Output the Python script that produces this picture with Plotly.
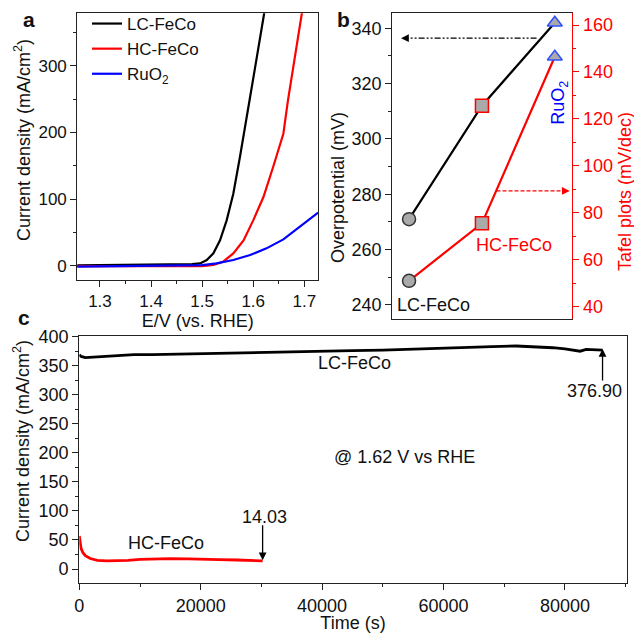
import plotly.graph_objects as go

# ---------------- data ----------------
# panel a: polarization curves
lc_E = [1.255, 1.30, 1.35, 1.40, 1.45, 1.48, 1.496, 1.509, 1.522, 1.535, 1.548, 1.561, 1.574, 1.590, 1.606, 1.620, 1.624]
lc_J = [0.5, 0.8, 1.0, 1.5, 2.0, 2.5, 3.5, 8.5, 18.5, 38, 68, 108, 163, 233, 308, 372, 390]
hc_E = [1.255, 1.30, 1.35, 1.40, 1.45, 1.50, 1.522, 1.541, 1.561, 1.581, 1.600, 1.620, 1.639, 1.659, 1.668, 1.678, 1.688, 1.692, 1.695, 1.698]
hc_J = [-0.5, -0.5, -1.0, -1.0, -1.0, -0.5, 1.0, 6, 18.5, 38, 68, 103, 148, 198, 248, 298, 348, 368, 378, 392]
ru_E = [1.255, 1.30, 1.35, 1.40, 1.45, 1.50, 1.528, 1.561, 1.594, 1.626, 1.659, 1.692, 1.727]
ru_J = [-1.5, -1.0, -0.5, 0.0, 0.5, 1.0, 3.5, 8.5, 16, 26, 39.5, 58.5, 79.5]

# panel b: overpotential and Tafel slopes
b_cats = ["LC-FeCo", "HC-FeCo", "RuO2"]
b_overpot = [271, 312, 342]
b_tafel = [51, 75.5, 146.5]

# panel c: chronoamperometry
lc_t = [0, 300, 1000, 3000, 6000, 9000, 12000, 16000, 20000, 25000, 30000, 35000, 40000, 45000, 50000,
        55000, 60000, 64000, 68000, 72000, 75000, 78000, 80000, 81500, 82500, 83500, 85000, 86200]
lc_j = [369, 366, 364, 365, 367, 369, 369, 370, 371, 372, 373, 374, 375, 376, 377,
        379, 380, 382, 383, 384, 383, 381, 379, 377, 375, 378, 377, 376.9]
hc_t = [0, 100, 300, 600, 1000, 1800, 3000, 4500, 6000, 8000, 10000, 12000, 15000, 18000, 20000,
        23000, 26000, 28000, 30200]
hc_j = [57, 45, 35, 28, 23, 18, 15, 14, 14, 15, 16.5, 17.5, 18, 17.5, 16.5, 16, 15.5, 15, 14.03]

# ---------------- layout helpers ----------------
W, H = 634, 633
FONT = "Liberation Sans, Arial, sans-serif"
AX = "#222222"


def px_x(p):
    return p / W


def px_y(p):
    return 1 - p / H


fig = go.Figure()

# panel a traces
fig.add_trace(go.Scatter(x=lc_E, y=lc_J, mode="lines", name="LC-FeCo",
                         line=dict(color="black", width=2.2), xaxis="x", yaxis="y"))
fig.add_trace(go.Scatter(x=hc_E, y=hc_J, mode="lines", name="HC-FeCo",
                         line=dict(color="red", width=2.2), xaxis="x", yaxis="y"))
fig.add_trace(go.Scatter(x=ru_E, y=ru_J, mode="lines", name="RuO<sub>2</sub>",
                         line=dict(color="blue", width=2.2), xaxis="x", yaxis="y"))

# panel b traces
xi = list(range(len(b_cats)))
symbols = ["circle", "square", "triangle-up"]
edge = ["#333333", "red", "#3050ff"]
fig.add_trace(go.Scatter(x=xi, y=b_overpot, mode="lines+markers", showlegend=False,
                         line=dict(color="black", width=2.2),
                         marker=dict(symbol=symbols, size=13, color="#aaaaaa",
                                     line=dict(color=edge, width=1.5)),
                         xaxis="x2", yaxis="y2"))
fig.add_trace(go.Scatter(x=xi, y=b_tafel, mode="lines+markers", showlegend=False,
                         line=dict(color="red", width=2.2),
                         marker=dict(symbol=symbols, size=13, color="#aaaaaa",
                                     line=dict(color=edge, width=1.5)),
                         xaxis="x2", yaxis="y3"))
# dashed guide arrows (shafts)
fig.add_trace(go.Scatter(x=[1.75, -0.08], y=[336.4, 336.4], mode="lines", showlegend=False,
                         line=dict(color="black", width=1.3, dash="6px,2px,2px,2px,2px,2px"),
                         xaxis="x2", yaxis="y2"))
fig.add_trace(go.Scatter(x=[1.20, 2.17], y=[89.3, 89.3], mode="lines", showlegend=False,
                         line=dict(color="red", width=1.3, dash="4px,2px"),
                         xaxis="x2", yaxis="y3"))

# panel c traces
fig.add_trace(go.Scatter(x=lc_t, y=lc_j, mode="lines", showlegend=False,
                         line=dict(color="black", width=2.8), xaxis="x3", yaxis="y4"))
fig.add_trace(go.Scatter(x=hc_t, y=hc_j, mode="lines", showlegend=False,
                         line=dict(color="red", width=2.8), xaxis="x3", yaxis="y4"))

tickfont = dict(family=FONT, size=17, color="#111")
titlefont = dict(family=FONT, size=18, color="#111")


def base_axis(**kw):
    d = dict(showline=True, linecolor=AX, linewidth=1.2, mirror=True, ticks="outside",
             ticklen=6, tickwidth=1.2, tickcolor=AX, showgrid=False, zeroline=False,
             tickfont=tickfont, automargin=False)
    d.update(kw)
    return d


layout = dict(
    width=W, height=H, margin=dict(l=0, r=0, t=0, b=0),
    paper_bgcolor="white", plot_bgcolor="white",
    font=dict(family=FONT, size=17, color="#111"),
    showlegend=True,
    legend=dict(x=px_x(87), y=px_y(6), xanchor="left", yanchor="top",
                bgcolor="rgba(0,0,0,0)", font=dict(family=FONT, size=17, color="#111"),
                tracegroupgap=0, itemwidth=30),
    # panel a
    xaxis=base_axis(domain=[px_x(77.3), px_x(318.3)], range=[1.2556, 1.7274], anchor="y",
                    dtick=0.1, tick0=1.3,
                    minor=dict(ticks="outside", ticklen=3, dtick=0.05, tickcolor=AX),
                    title=dict(text="E/V (vs. RHE)", font=titlefont, standoff=3)),
    yaxis=base_axis(domain=[px_y(279.7), px_y(13.3)], range=[-21, 378.6], anchor="x",
                    dtick=100, tick0=0,
                    minor=dict(ticks="outside", ticklen=3, dtick=50, tickcolor=AX)),
    # panel b
    xaxis2=base_axis(domain=[px_x(392.3), px_x(572.3)], range=[-0.23, 2.24], anchor="y2",
                     ticks="", showticklabels=False),
    yaxis2=base_axis(domain=[px_y(319.3), px_y(13.3)], range=[234.8, 345.4], anchor="x2",
                     mirror=False, dtick=20,
                     minor=dict(ticks="outside", ticklen=3, dtick=10, tickcolor=AX),
                     tickfont=dict(family=FONT, size=18, color="#111")),
    yaxis3=base_axis(domain=[px_y(319.3), px_y(13.3)], range=[34.6, 165.0], anchor="x2",
                     overlaying="y2", side="right", mirror=False, dtick=20,
                     linecolor="red", tickcolor="red",
                     minor=dict(ticks="outside", ticklen=3, dtick=10, tickcolor="red"),
                     tickfont=dict(family=FONT, size=18, color="red")),
    # panel c
    xaxis3=base_axis(domain=[px_x(79.3), px_x(626.7)], range=[0, 90180], anchor="y4",
                     dtick=20000, tick0=0, tickformat="d",
                     minor=dict(ticks="outside", ticklen=3, dtick=10000, tickcolor=AX),
                     tickfont=dict(family=FONT, size=18, color="#111"),
                     title=dict(text="Time (s)", font=titlefont, standoff=2)),
    yaxis4=base_axis(domain=[px_y(583.3), px_y(336.0)], range=[-24.6, 401.2], anchor="x3",
                     dtick=50, tick0=0,
                     minor=dict(ticks="outside", ticklen=3, dtick=25, tickcolor=AX),
                     tickfont=dict(family=FONT, size=18, color="#111")),
)
fig.update_layout(**layout)

ann = []


def txt(x, y, s, xref="paper", yref="paper", size=18, color="#111", angle=0, bold=False, **kw):
    d = dict(x=x, y=y, xref=xref, yref=yref, text=("<b>%s</b>" % s) if bold else s,
             showarrow=False, textangle=angle, xanchor="center", yanchor="middle",
             font=dict(family=FONT, size=size, color=color))
    d.update(kw)
    ann.append(d)


# panel letters
txt(px_x(29), px_y(20), "a", size=21, bold=True)
txt(px_x(343), px_y(20), "b", size=21, bold=True)
txt(px_x(24), px_y(317), "c", size=21, bold=True)

# y-axis titles
txt(px_x(22), px_y(140), "Current density (mA/cm<sup>2</sup>)", angle=-90)
txt(px_x(338), px_y(188), "Overpotential (mV)", angle=-90)
txt(px_x(625), px_y(192), "Tafel plots (mV/dec)", angle=-90, color="red")
txt(px_x(21), px_y(441), "Current density (mA/cm<sup>2</sup>)", angle=-90)

# panel b labels
txt(0.336, 240.0, "LC-FeCo", xref="x2", yref="y2")
txt(1.435, 261.7, "HC-FeCo", xref="x2", yref="y2", color="red")
txt(2.07, 313, "RuO<sub>2</sub>", xref="x2", yref="y2", color="blue", angle=-90)

# arrowheads for panel b guides
ann.append(dict(x=-0.11, y=336.4, ax=-0.02, ay=336.4, xref="x2", yref="y2", axref="x2", ayref="y2",
                text="", showarrow=True, arrowhead=2, arrowsize=1.2, arrowwidth=1.3, arrowcolor="black"))
ann.append(dict(x=2.205, y=89.3, ax=2.12, ay=89.3, xref="x2", yref="y3", axref="x2", ayref="y3",
                text="", showarrow=True, arrowhead=2, arrowsize=1.2, arrowwidth=1.3, arrowcolor="red"))

# panel c labels
txt(45400, 354, "LC-FeCo", xref="x3", yref="y4")
txt(14300, 45, "HC-FeCo", xref="x3", yref="y4")
txt(53500, 193, "@ 1.62 V vs RHE", xref="x3", yref="y4")
txt(30500, 89, "14.03", xref="x3", yref="y4")
txt(84800, 306, "376.90", xref="x3", yref="y4")
ann.append(dict(x=30200, y=15, ax=30200, ay=78, xref="x3", yref="y4", axref="x3", ayref="y4",
                text="", showarrow=True, arrowhead=2, arrowsize=1.2, arrowwidth=1.3, arrowcolor="black"))
ann.append(dict(x=86200, y=379, ax=86200, ay=322, xref="x3", yref="y4", axref="x3", ayref="y4",
                text="", showarrow=True, arrowhead=2, arrowsize=1.2, arrowwidth=1.3, arrowcolor="black"))

fig.update_layout(annotations=ann)

fig.write_html("out.html", config={"displayModeBar": False},
               post_script="document.body.style.margin='0';document.body.style.padding='0';"
                           "document.documentElement.style.overflow='hidden';")
